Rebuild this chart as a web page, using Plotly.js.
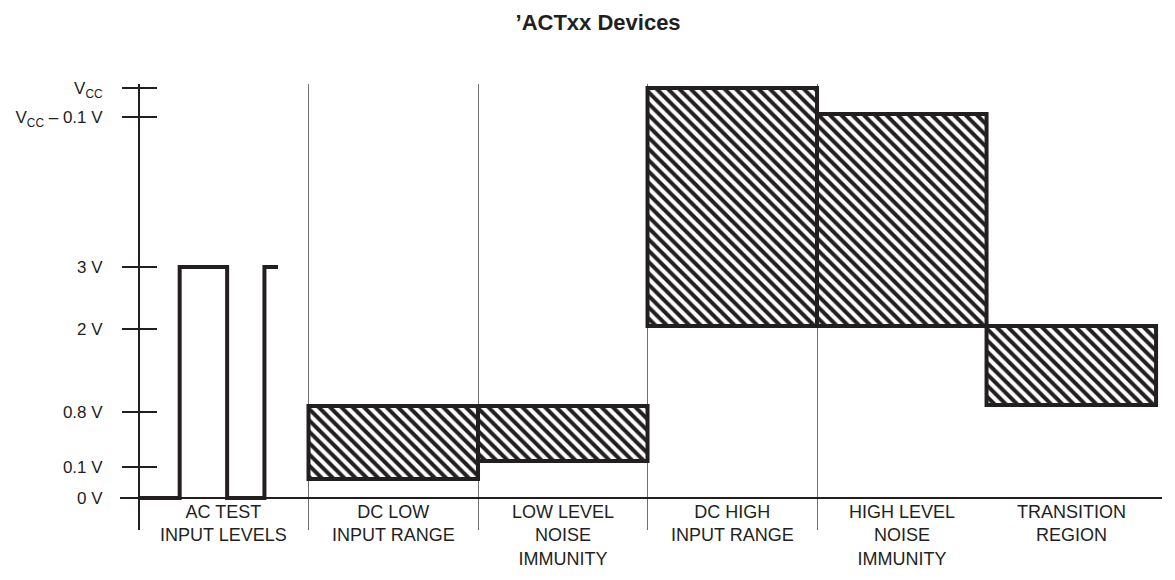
<!DOCTYPE html>
<html>
<head>
<meta charset="utf-8">
<script src="https://cdn.plot.ly/plotly-3.0.1.min.js"></script>
<style>
  html, body { margin: 0; padding: 0; background: #fff; }
  #chart { width: 1175px; height: 580px; }
</style>
</head>
<body>
<div id="chart"></div>
<script>
// categories along the bottom (index 0..5)
const categories = [
    'AC TEST<br>INPUT LEVELS',
    'DC LOW<br>INPUT RANGE',
    'LOW LEVEL<br>NOISE<br>IMMUNITY',
    'DC HIGH<br>INPUT RANGE',
    'HIGH LEVEL<br>NOISE<br>IMMUNITY',
    'TRANSITION<br>REGION'
];

// schematic voltage scale (not linear), position of each level on the axis
const tickLabels = ['0 V', '0.1 V', '0.8 V', '2 V', '3 V', 'V<sub>CC</sub> – 0.1 V', 'V<sub>CC</sub>'];
const tickPos = [0, 31, 86, 169, 231, 381, 410];

// hatched ranges
const boxCats = [1, 2, 3, 4, 5];
const boxLow = [19, 37, 172, 172, 93];
const boxHigh = [92, 92, 410, 384, 172];

// AC test input square wave
const waveX = [-0.5, -0.26, -0.26, 0.02, 0.02, 0.24, 0.24, 0.32];
const waveY = [0, 0, 231, 231, 0, 0, 231, 231];

const ink = '#231f20';
const narrow = '"Liberation Sans Narrow", "Arial Narrow", "Liberation Sans", Arial, sans-serif';

const boxes = {
    type: 'bar',
    x: boxCats,
    base: boxLow,
    y: boxHigh.map((h, i) => h - boxLow[i]),
    width: 1,
    marker: {
        color: '#ffffff',
        line: { color: ink, width: 4 },
        pattern: { shape: '\\', fgcolor: ink, bgcolor: '#ffffff', size: 8, solidity: 0.5, fillmode: 'replace' }
    },
    hoverinfo: 'skip',
    showlegend: false
};

const wave = {
    type: 'scatter',
    mode: 'lines',
    x: waveX,
    y: waveY,
    line: { color: ink, width: 4 },
    hoverinfo: 'skip',
    showlegend: false
};

// carries the overlay axis that draws the right half of each tick
const ghost = {
    type: 'scatter', mode: 'lines', x: [0], y: [0], yaxis: 'y2',
    line: { width: 0 }, hoverinfo: 'skip', showlegend: false
};

const boundaries = categories.slice(0, -1).map((_, i) => i - 0.5);
const axisPos = 19 / 1042;

const layout = {
    width: 1175,
    height: 580,
    margin: { l: 120, r: 13, t: 84, b: 50 },
    paper_bgcolor: '#ffffff',
    plot_bgcolor: '#ffffff',
    bargap: 0,
    title: {
        text: '’ACTxx Devices',
        font: { family: '"Liberation Sans", Arial, sans-serif', size: 22, color: ink, weight: 'bold' },
        xref: 'container', x: 0.509, xanchor: 'center',
        yref: 'container', y: 0.962, yanchor: 'middle'
    },
    xaxis: {
        range: [-0.612, 5.535],
        tickmode: 'array',
        tickvals: boundaries,
        showticklabels: false,
        ticks: '',
        showgrid: true,
        gridcolor: '#707070',
        gridwidth: 1,
        zeroline: false,
        showline: false,
        fixedrange: true
    },
    yaxis: {
        range: [-32, 414],
        anchor: 'free',
        position: axisPos,
        tickmode: 'array',
        tickvals: tickPos,
        ticktext: tickLabels,
        ticks: 'outside',
        ticklen: 16,
        tickwidth: 2,
        tickcolor: ink,
        ticklabelstandoff: 16,
        tickfont: { family: narrow, size: 17, color: ink },
        showline: true,
        linecolor: ink,
        linewidth: 2,
        showgrid: false,
        zeroline: true,
        zerolinecolor: ink,
        zerolinewidth: 2,
        fixedrange: true
    },
    yaxis2: {
        range: [-32, 414],
        overlaying: 'y',
        anchor: 'free',
        position: axisPos,
        tickmode: 'array',
        tickvals: tickPos,
        ticks: 'inside',
        ticklen: 17,
        tickwidth: 2,
        tickcolor: ink,
        showticklabels: false,
        showline: false,
        showgrid: false,
        zeroline: false,
        fixedrange: true
    },
    annotations: categories.map((c, i) => ({
        text: c,
        x: i,
        y: 0,
        xref: 'x',
        yref: 'y',
        xanchor: 'center',
        yanchor: 'top',
        yshift: -2,
        showarrow: false,
        font: { family: narrow, size: 18, color: ink }
    }))
};

Plotly.newPlot('chart', [boxes, wave, ghost], layout, { displayModeBar: false, staticPlot: true });
</script>
</body>
</html>
